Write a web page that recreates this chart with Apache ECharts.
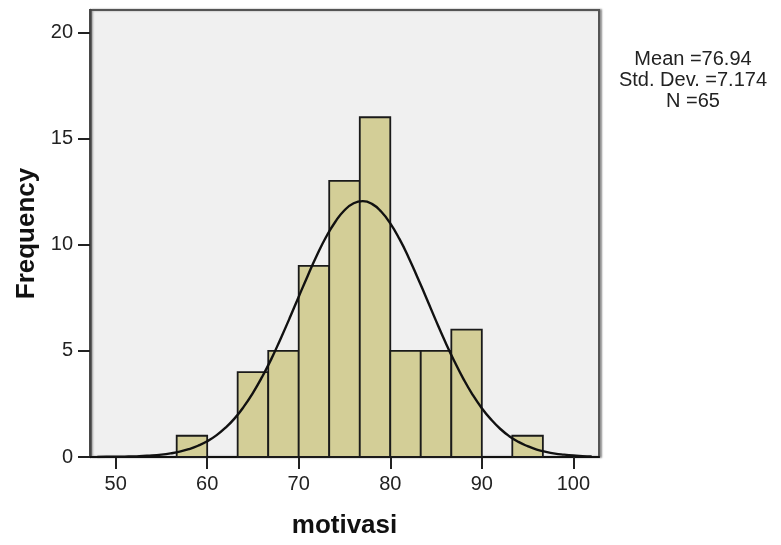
<!DOCTYPE html>
<html>
<head>
<meta charset="utf-8">
<script src="https://cdn.jsdelivr.net/npm/echarts@6/dist/echarts.min.js"></script>
<style>
html,body{margin:0;padding:0;background:#fff;}
#chart{width:781px;height:545px;}
</style>
</head>
<body>
<div id="chart"></div>
<script>
// Histogram bins (lower edge, upper edge) and counts
const binStart = [56.67, 60.00, 63.33, 66.67, 70.00, 73.33, 76.67, 80.00, 83.33, 86.67, 90.00, 93.33];
const binEnd   = [60.00, 63.33, 66.67, 70.00, 73.33, 76.67, 80.00, 83.33, 86.67, 90.00, 93.33, 96.67];
const counts   = [1, 0, 4, 5, 9, 13, 16, 5, 5, 6, 0, 1];

// Normal curve points
const curveX = [48, 49, 50, 51, 52, 53, 54, 55, 56, 57, 58, 59, 60, 61, 62, 63, 64, 65, 66, 67, 68, 69, 70, 71, 72, 73, 74, 75, 76, 77,
                78, 79, 80, 81, 82, 83, 84, 85, 86, 87, 88, 89, 90, 91, 92, 93, 94, 95, 96, 97, 98, 99, 100, 101, 102];
const curveY = [0.00, 0.01, 0.01, 0.02, 0.03, 0.05, 0.07, 0.11, 0.17, 0.25, 0.37, 0.53, 0.74, 1.02, 1.38, 1.82, 2.37, 3.02, 3.77, 4.61, 5.55, 6.53, 7.55, 8.55, 9.51, 10.37, 11.08, 11.62, 11.95, 12.05,
                11.92, 11.56, 11.00, 10.27, 9.40, 8.43, 7.43, 6.41, 5.43, 4.51, 3.67, 2.93, 2.30, 1.77, 1.33, 0.98, 0.71, 0.51, 0.35, 0.24, 0.16, 0.11, 0.07, 0.04, 0.03];

const xTicks = [50, 60, 70, 80, 90, 100];
const yTicks = [0, 5, 10, 15, 20];

const statsLines = ['Mean =76.94', 'Std. Dev. =7.174', 'N =65'];

const chart = echarts.init(document.getElementById('chart'), null, {renderer: 'canvas'});

const barData = binStart.map((s, i) => [s, binEnd[i], counts[i]]).filter(d => d[2] > 0);
const curveData = curveX.map((x, i) => [x, curveY[i]]);

const font = 'Arial, "Liberation Sans", Helvetica, sans-serif';

const option = {
  animation: false,
  backgroundColor: '#ffffff',
  grid: {
    left: 90, top: 10, right: 182, bottom: 88,
    show: true,
    backgroundColor: '#f0f0f0',
    borderColor: '#555555',
    borderWidth: 2,
    shadowColor: 'rgba(0,0,0,0.35)',
    shadowBlur: 2,
    shadowOffsetX: 2,
    shadowOffsetY: 0
  },
  xAxis: {
    type: 'value',
    min: 47.2, max: 102.8,
    name: 'motivasi',
    nameLocation: 'middle',
    nameGap: 56,
    nameTextStyle: {fontFamily: font, fontSize: 26, fontWeight: 'bold', color: '#111'},
    axisLine: {show: true, onZero: false, lineStyle: {color: '#111', width: 2}},
    axisTick: {show: true, length: 12, customValues: xTicks, lineStyle: {color: '#222', width: 2}},
    axisLabel: {customValues: xTicks, margin: 17, fontFamily: font, fontSize: 20, color: '#222'},
    splitLine: {show: false}
  },
  yAxis: {
    type: 'value',
    min: 0, max: 21.05,
    name: 'Frequency',
    nameLocation: 'middle',
    nameGap: 47,
    nameRotate: 90,
    nameTextStyle: {fontFamily: font, fontSize: 26, fontWeight: 'bold', color: '#111'},
    axisLine: {show: true, onZero: false, lineStyle: {color: '#444', width: 2.5}},
    axisTick: {show: true, length: 12, customValues: yTicks, lineStyle: {color: '#222', width: 2}},
    axisLabel: {customValues: yTicks, margin: 17, fontFamily: font, fontSize: 20, color: '#222'},
    splitLine: {show: false}
  },
  series: [
    {
      type: 'custom',
      z: 2,
      data: barData,
      encode: {x: [0, 1], y: 2},
      renderItem: function (params, api) {
        const p0 = api.coord([api.value(0), 0]);
        const p1 = api.coord([api.value(1), api.value(2)]);
        return {
          type: 'rect',
          shape: {x: p0[0], y: p1[1], width: p1[0] - p0[0], height: p0[1] - p1[1]},
          style: {fill: '#d3ce97', stroke: '#1a1a1a', lineWidth: 1.8}
        };
      }
    },
    {
      type: 'line',
      z: 5,
      data: curveData,
      smooth: true,
      showSymbol: false,
      symbol: 'none',
      lineStyle: {color: '#111', width: 2.4},
      clip: true
    }
  ],
  graphic: statsLines.map((t, i) => ({
    type: 'text',
    x: 693, y: 59 + i * 21.3,
    style: {text: t, fontFamily: font, fontSize: 20, fill: '#222', textAlign: 'center', textVerticalAlign: 'middle'}
  }))
};

chart.setOption(option);
</script>
</body>
</html>
